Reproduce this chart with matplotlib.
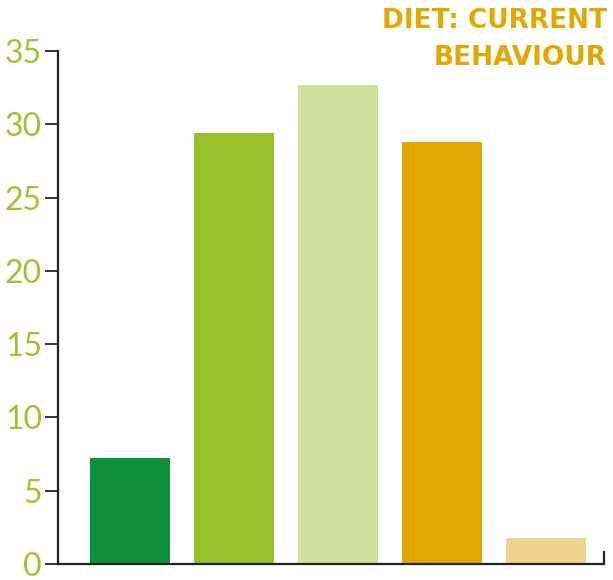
import matplotlib
matplotlib.use("Agg")
import matplotlib.pyplot as plt

categories = ["A", "B", "C", "D", "E"]
values = [7.2, 29.4, 32.7, 28.8, 1.8]
bar_colors = ["#0f8f3e", "#97c12a", "#cfe09d", "#e0a800", "#f0d28c"]
y_ticks = [0, 5, 10, 15, 20, 25, 30, 35]
title = "DIET: CURRENT\nBEHAVIOUR"

W, H = 613, 580
fig = plt.figure(figsize=(W / 100, H / 100), dpi=100)
ax = fig.add_axes([58 / W, 16 / H, (604 - 58) / W, 513 / H])

x = list(range(len(categories)))
ax.bar(x, values, width=0.77, color=bar_colors, zorder=2)

ax.set_ylim(0, 35)
ax.set_xlim(-0.692, 4.558)
ax.set_yticks(y_ticks)
ax.set_yticklabels([str(t) for t in y_ticks])
ax.set_xticks([])

for side in ("top", "right"):
    ax.spines[side].set_visible(False)
for side in ("left", "bottom"):
    ax.spines[side].set_color("#222222")
    ax.spines[side].set_linewidth(1.6)
ax.axvline(ax.get_xlim()[1], ymin=0, ymax=12 / 513, color="#222222", lw=1.6, clip_on=False)

ax.tick_params(axis="y", length=9.5, width=1.4, color="#333333", pad=2,
               labelsize=23, labelcolor="#9dc430")
for lbl in ax.get_yticklabels():
    lbl.set_fontfamily("Lato")
    lbl.set_fontweight("normal")

fig.text(607 / W, 1 - 8 / H, title, ha="right", va="top", fontsize=19,
         fontfamily="DejaVu Sans", fontweight="bold", color="#e0a800", linespacing=1.55)

fig.savefig("out.png", dpi=100)
